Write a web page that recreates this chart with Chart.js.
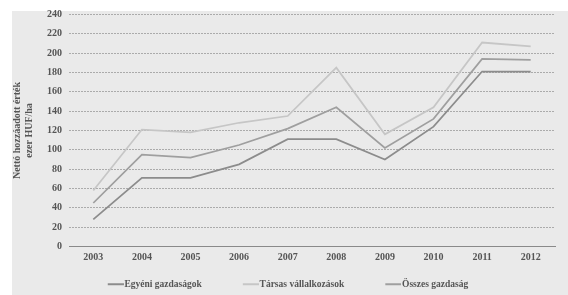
<!DOCTYPE html>
<html>
<head>
<meta charset="utf-8">
<script src="https://cdn.jsdelivr.net/npm/chart.js"></script>
<style>
  html, body { margin: 0; padding: 0; background: #fff; }
  #wrap { position: relative; width: 568px; height: 295px; }
  #bg { position: absolute; left: 12px; top: 11px; right: 0; bottom: 0; background: #eaeaea; }
  #chart-1 { position: absolute; left: 0; top: 0; }
</style>
</head>
<body>
<div id="wrap">
  <div id="bg"></div>
  <canvas id="chart-1" width="568" height="295"></canvas>
</div>
<script>
// Years on the x axis
const years = ['2003', '2004', '2005', '2006', '2007', '2008', '2009', '2010', '2011', '2012'];

// Net value added, thousand HUF per hectare
const egyeni = [28, 71, 71, 85, 111, 111, 90, 124, 181, 181];
const tarsas = [58, 121, 118, 128, 135, 185, 116, 144, 211, 207];
const osszes = [45, 95, 92, 105, 122, 144, 102, 132, 194, 193];

const seriesNames = ['Egyéni gazdaságok', 'Társas vállalkozások', 'Összes gazdaság'];
const yTitle = ['Nettó hozzáadott érték', 'ezer HUF/ha'];

const serif = 'Liberation Serif';

// legend swatch: a 16px line right next to the label, blank space before it
const swW = 42;
function swatch(color) {
  const c = document.createElement('canvas');
  c.width = swW + 8;
  c.height = 4;
  const g = c.getContext('2d');
  g.strokeStyle = color;
  g.lineWidth = 2;
  g.beginPath();
  g.moveTo(swW + 8 - 16, 2);
  g.lineTo(swW + 8, 2);
  g.stroke();
  return c;
}

// the blank before the first swatch pushes the legend right, pull it back
const legendShift = {
  id: 'legendShift',
  afterLayout(chart) {
    const lg = chart.legend;
    if (lg) { lg.left -= 10; lg.right -= 10; }
  }
};

const colors = ['#8c8c8c', '#c6c6c6', '#9f9f9f'];

function line(label, data, color) {
  return {
    label: label,
    data: data,
    borderColor: color,
    backgroundColor: color,
    borderWidth: 1.75,
    pointRadius: 0,
    pointHoverRadius: 0,
    pointStyle: swatch(color),
    tension: 0,
    fill: false
  };
}

new Chart(document.getElementById('chart-1'), {
  type: 'line',
  data: {
    labels: years,
    datasets: [
      line(seriesNames[0], egyeni, colors[0]),
      line(seriesNames[1], tarsas, colors[1]),
      line(seriesNames[2], osszes, colors[2])
    ]
  },
  options: {
    responsive: false,
    animation: false,
    layout: {
      padding: { left: 11, right: 13, top: 14.5, bottom: -4 }
    },
    plugins: {
      tooltip: { enabled: false },
      legend: {
        position: 'bottom',
        labels: {
          usePointStyle: true,
          pointStyleWidth: swW,
          padding: 11,
          color: '#555',
          font: { family: serif, size: 9.5, weight: 'bold' }
        }
      }
    },
    scales: {
      x: {
        offset: true,
        grid: { display: false, drawTicks: false },
        border: { display: true, color: '#8a8a8a', width: 1 },
        ticks: {
          padding: 5,
          color: '#555',
          font: { family: serif, size: 10, weight: 'bold' }
        }
      },
      y: {
        min: 0,
        max: 240,
        grid: {
          color: '#ababab',
          drawTicks: false
        },
        border: { display: false, dash: [2, 1] },
        ticks: {
          stepSize: 20,
          padding: 7,
          color: '#555',
          font: { family: serif, size: 10, weight: 'bold' }
        },
        title: {
          display: true,
          text: yTitle,
          color: '#555',
          padding: { top: 0, bottom: 5 },
          font: { family: serif, size: 10, weight: 'bold' }
        }
      }
    }
  },
  plugins: [legendShift]
});
</script>
</body>
</html>
